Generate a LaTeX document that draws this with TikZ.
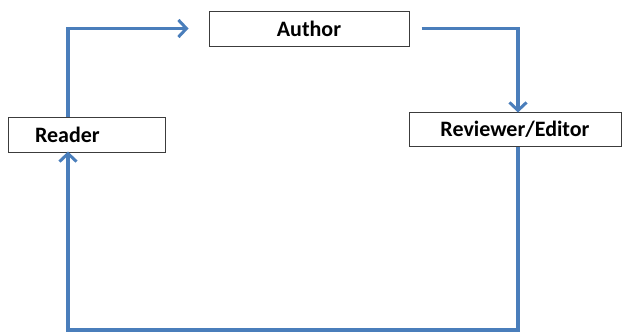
\documentclass[tikz,border=0pt]{standalone}
\usepackage{fontspec}
\setmainfont{Carlito}
\usepackage{tikz}
\usetikzlibrary{arrows.meta,positioning,calc}
\definecolor{flowblue}{RGB}{74,126,187}
\definecolor{boxgray}{RGB}{60,60,60}

\tikzset{
    rolebox/.style={draw=boxgray, line width=1pt, fill=white, minimum height=35pt,
        font=\fontsize{22}{26}\selectfont\bfseries, inner sep=0pt},
    flow/.style={draw=flowblue, line width=3.4pt,
        -{Straight Barb[length=8pt,width=17pt,line width=3pt]}}
}

\begin{document}
\begin{tikzpicture}[x=1pt,y=-1pt]
    \useasboundingbox (0,0) rectangle (622,332);

    \node[rolebox, text width=103pt, align=left, inner xsep=27pt] (reader) at (86.5,134.5) {Reader};
    \node[rolebox, minimum width=200pt] (author) at (309,28.5) {Author};
    \node[rolebox, minimum width=212pt, minimum height=34pt] (reviewer) at (515,129) {Reviewer/Editor};

    % free ends of the loop
    \coordinate (authorin) at ([xshift=-20pt]author.west);
    \coordinate (loopbottom) at (300,330);

    \draw[flow] ([xshift=-18.5pt]reader.north) |- (authorin);
    \draw[flow] ([xshift=12pt]author.east) -| ([xshift=3pt,yshift=-1pt]reviewer.north);
    \draw[flow] ([xshift=3pt]reviewer.south) |- (loopbottom) -| ([xshift=-18.5pt,yshift=1pt]reader.south);
\end{tikzpicture}
\end{document}
